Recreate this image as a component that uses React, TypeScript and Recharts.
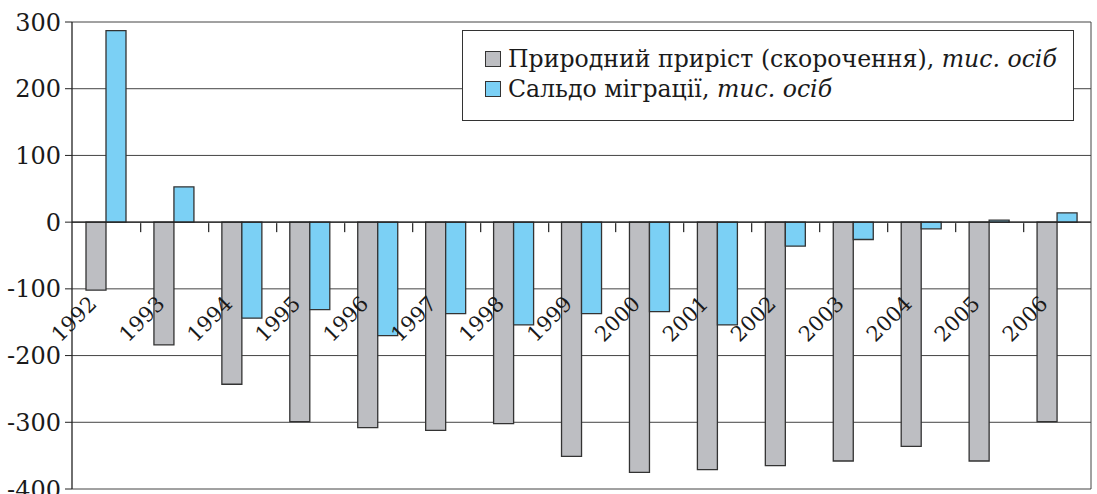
import React from "react";
import {
  BarChart,
  Bar,
  XAxis,
  YAxis,
  CartesianGrid,
  Legend,
  ReferenceLine,
} from "recharts";

const years = [
  "1992", "1993", "1994", "1995", "1996", "1997", "1998", "1999",
  "2000", "2001", "2002", "2003", "2004", "2005", "2006",
];
const naturalGrowth = [
  -102, -184, -243, -299, -308, -312, -302, -351, -375, -371, -365, -358, -336, -358, -299,
];
const migration = [
  287, 53, -144, -131, -170, -137, -154, -137, -134, -154, -36, -26, -10, 3, 14,
];
const yTicks = [-400, -300, -200, -100, 0, 100, 200, 300];
const seriesNames = ["Природний приріст (скорочення),", "Сальдо міграції,"];
const unitLabel = "тис. осіб";

const data = years.map((year, i) => ({
  year,
  natural: naturalGrowth[i],
  migration: migration[i],
}));

const FONT = "'DejaVu Serif', 'Liberation Serif', serif";
const W = 1097;
const H = 494;
const TOP = 22;
const BOTTOM = 4;
const XAXIS_H = 1;
const LEFT = 72;
const RIGHT = 6;
const PLOT_H = H - TOP - BOTTOM - XAXIS_H;
const PLOT_W = W - LEFT - RIGHT;
const BAND = PLOT_W / years.length;

function YearTick({ x, y, payload }: any) {
  // y arrives below the plot (+ tick size and margin); labels sit under the zero line
  const zeroY = y - 8 - (PLOT_H * 400) / 700;
  const tx = x - 8;
  const ty = zeroY + 83;
  const bx = Math.round(x + BAND / 2);
  const isLast = years.indexOf(String(payload.value)) === years.length - 1;
  return (
    <g>
      {!isLast && <rect x={bx} y={zeroY + 1} width={1.3} height={9} fill="#333" />}
      <text
        x={tx}
        y={ty}
        transform={`rotate(-45, ${tx}, ${ty})`}
        textAnchor="end"
        fontFamily={FONT}
        fontSize={21}
        fill="#1a1a1a"
      >
        {payload.value}
      </text>
    </g>
  );
}

function LegendBox() {
  const colors = ["#BDBEC2", "#7BD0F5"];
  return (
    <div
      style={{
        border: "1px solid #333",
        background: "#fff",
        padding: "13px 8px 15px 22px",
        fontFamily: FONT,
        fontSize: 23.6,
        color: "#1a1a1a",
        lineHeight: "30px",
        boxSizing: "border-box",
        width: 612,
        height: 91,
        whiteSpace: "nowrap",
      }}
    >
      {seriesNames.map((name, i) => (
        <div key={name} style={{ display: "flex", alignItems: "center" }}>
          <span
            style={{
              display: "inline-block",
              width: 14,
              height: 14,
              background: colors[i],
              border: "1px solid #333",
              marginRight: 7,
            }}
          />
          <span>
            {name} <i>{unitLabel}</i>
          </span>
        </div>
      ))}
    </div>
  );
}

export default function App() {
  return (
    <div style={{ position: "absolute", left: 0, top: 0, background: "#fff" }}>
      <BarChart
        width={W}
        height={H}
        data={data}
        margin={{ top: TOP, right: 0, bottom: BOTTOM, left: 0 }}
        barGap={0}
        barSize={20}
      >
        <CartesianGrid vertical={false} stroke="#444" strokeWidth={1} />
        <ReferenceLine y={0} stroke="#222" strokeWidth={1.3} />
        <Legend
          layout="horizontal"
          verticalAlign="middle"
          content={<LegendBox />}
          wrapperStyle={{ left: 462, top: 30, width: 612 }}
        />
        <Bar
          dataKey="natural"
          fill="#BDBEC2"
          stroke="#333"
          strokeWidth={1.3}
          isAnimationActive={false}
        />
        <Bar
          dataKey="migration"
          fill="#7BD0F5"
          stroke="#333"
          strokeWidth={1.3}
          isAnimationActive={false}
        />
        <XAxis
          dataKey="year"
          height={XAXIS_H}
          axisLine={false}
          tickLine={false}
          interval={0}
          tick={<YearTick />}
        />
        <YAxis
          domain={[-400, 300]}
          ticks={yTicks}
          width={LEFT}
          tick={{ fontFamily: FONT, fontSize: 24, fill: "#1a1a1a" }}
          tickLine={{ stroke: "#222" }}
          tickSize={7}
          tickMargin={4}
          axisLine={{ stroke: "#222", strokeWidth: 1.3 }}
          interval={0}
        />
        <YAxis
          yAxisId="right"
          orientation="right"
          width={RIGHT}
          domain={[-400, 300]}
          tick={false}
          tickLine={false}
          axisLine={{ stroke: "#444" }}
        />
      </BarChart>
    </div>
  );
}
